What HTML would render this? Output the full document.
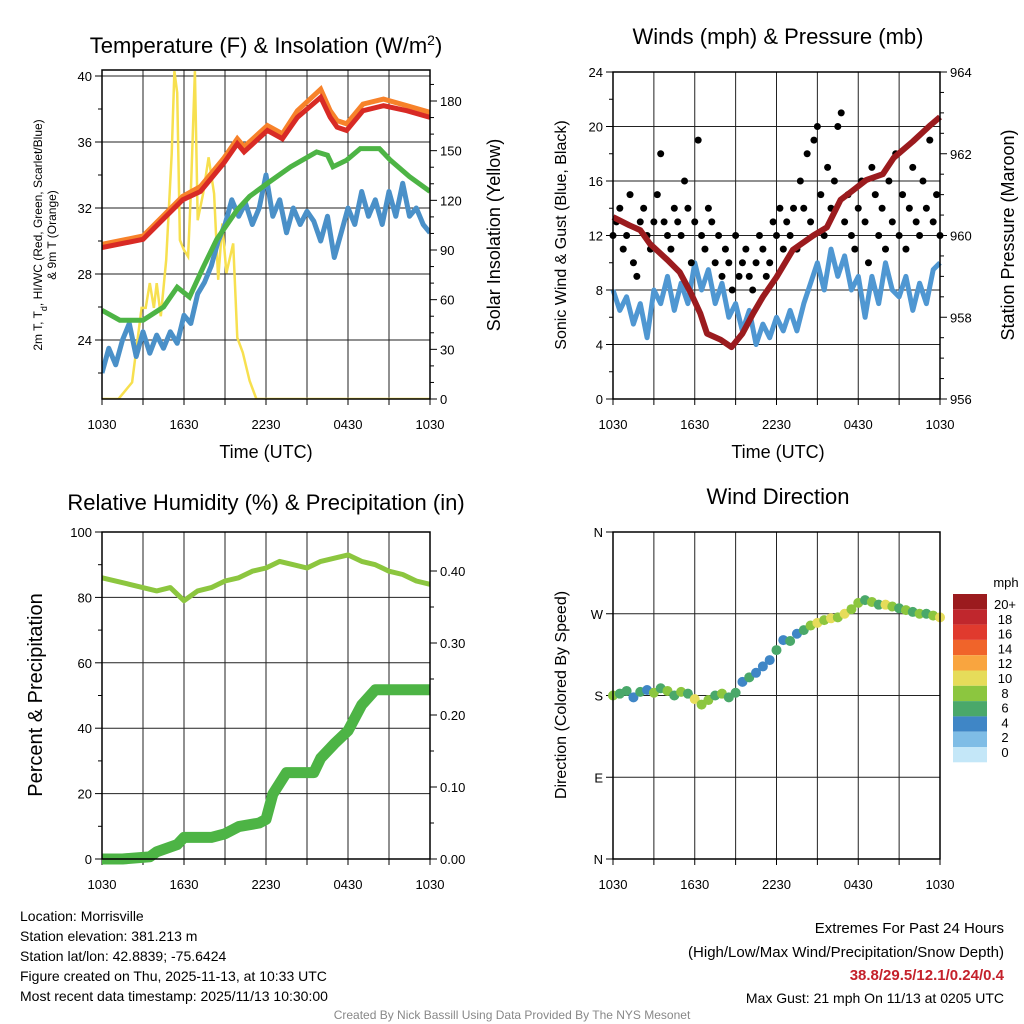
<!DOCTYPE html>
<html><head><meta charset="utf-8"><style>
body{margin:0;background:#fff;}
svg{display:block;font-family:"Liberation Sans",sans-serif;}
</style></head><body>
<svg id="c" width="1024" height="1024" viewBox="0 0 1024 1024"></svg>
<script>
// ---- data (times in hours since 1030 UTC) ----
const xTickLabels=["1030","1630","2230","0430","1030"];
const tempT=[0,3,5.9,7.2,8.9,9.9,10.4,12.1,13.2,14.3,16,16.7,17.2,17.9,19.1,20.6,22.3,24];
const tempV=[29.6,30.1,32.5,33,34.7,35.9,35.4,36.7,36.2,37.5,38.7,37.5,36.9,36.7,37.9,38.2,37.9,37.5];
const orangeV=[29.8,30.3,32.7,33.3,35,36.2,35.7,37,36.5,37.9,39.2,37.9,37.3,37.1,38.3,38.6,38.2,37.8];
const dewpT=[0,1.3,3,4.5,5.5,6.4,7.4,8.4,9.9,10.8,12.1,13.8,15.7,16.5,16.9,17.9,18.9,20.3,21.1,22.5,24];
const dewpV=[25.8,25.2,25.2,26,27.2,26.6,28.4,30.1,31.9,32.7,33.5,34.5,35.4,35.2,34.5,34.9,35.6,35.6,34.9,33.9,33];
const tdV=[22,23.5,22.5,24,25,23,24.5,23.2,24.3,23.5,24.5,23.8,25.5,25,26.8,27.5,28.5,30,31,32.5,31.5,32.3,31,32,34,31.5,32.5,30.5,32,31,31.8,31.2,30,31.5,29,30.5,32,31,33,31.5,32.5,31,33,31.5,33.5,31.5,32,31,30.5];
const solT=[0,1.2,2.2,2.9,3.2,3.5,3.8,4.0,4.3,4.7,5.1,5.3,5.5,5.7,6.0,6.3,6.5,6.8,7.0,7.4,7.8,8.2,8.5,8.8,9.1,9.6,9.9,10.3,10.8,11.3,24];
const solV=[0,0,10,55,55,70,55,70,50,84,148,198,185,96,90,86,124,198,108,124,146,124,72,106,76,94,37,28,11,0,0];
const windV=[8,6.5,7.5,5.5,7,4.5,8,7,9,6.5,8.5,7,10,8,9.5,7,8.5,6,7,5,6.5,4,5.5,4.5,6,5,6.5,5,7,8.5,10,8,11,9,10.5,8,9,6,9,7,10,8,7.5,9,6.5,8.5,7,9.5,10];
const gustV=[12,13,14,11,12,15,10,9,13,14,12,11,13,15,18,13,12,11,14,13,12,16,14,10,13,19,12,11,14,13,10,12,9,11,10,8,12,9,10,11,9,8,10,12,11,9,10,13,12,14,11,13,12,14,11,16,14,18,13,19,20,15,12,17,14,16,20,21,13,15,12,11,14,16,13,10,17,15,12,14,11,16,13,18,12,15,11,14,17,13,12,16,14,19,13,15,12];
const presT=[0,1.2,2,2.7,4,4.9,5.7,6.4,6.9,7.9,8.7,9.5,10.3,11,12,13.2,14.7,15.7,16.7,17.6,18.6,19.8,20.6,22,23.3,24];
const presV=[960.45,960.25,960.13,959.8,959.4,959.1,958.6,958.1,957.6,957.45,957.27,957.6,958.1,958.5,958.98,959.65,960,960.2,960.87,961.1,961.36,961.5,961.9,962.3,962.7,962.9];
const rhT=[0,2,4,5,6,7,8,9,10,11,12,13,14,15,16,17,18,19,20,21,22,23,24];
const rhV=[86,84,82,83,79,82,83,85,86,88,89,91,90,89,91,92,93,91,90,88,87,85,84];
const pcpT=[0,1.5,3.5,4,5.5,6,8,9,10,11.5,12,12.5,13.5,15.5,16,17,18,19,20,24];
const pcpV=[0,0,0.003,0.01,0.02,0.03,0.03,0.035,0.045,0.05,0.055,0.09,0.12,0.12,0.14,0.16,0.178,0.214,0.235,0.235];
const dirV=[180,182,185,178,184,186,183,188,185,180,184,182,176,170,175,180,182,178,183,195,200,205,212,219,230,241,240,248,252,257,260,263,265,266,270,275,282,285,283,280,280,278,276,274,272,270,270,268,266];
const cbLabels=["20+","18","16","14","12","10","8","6","4","2","0"];
const cbColors=["#9b1b1e","#c0272d","#e03a2e","#f0642a","#f9a53f","#e6dc5a","#8cc63f","#4aa86a","#3f86c6","#7fbde6","#c4e7f8"];

const NS="http://www.w3.org/2000/svg";
const svg=document.getElementById('c');
function mk(tag,attrs,parent){const e=document.createElementNS(NS,tag);for(const k in attrs)e.setAttribute(k,attrs[k]);(parent||svg).appendChild(e);return e;}
function txt(x,y,s,size,anchor,parent,extra){const e=mk('text',Object.assign({x:x,y:y,'font-size':size,'text-anchor':anchor||'middle',fill:'#000'},extra||{}),parent);e.textContent=s;return e;}
function lin(fx,fy,vs,ts){return vs.map((v,i)=>(i?'L':'M')+fx(ts[i]).toFixed(1)+','+fy(v).toFixed(1)).join('');}
function stepT(n){const a=[];for(let i=0;i<n;i++)a.push(i*24/(n-1));return a;}

function panel(x0,x1,y0,y1,name){
  const g=mk('g',{});
  
  
  const fx=t=>x0+(x1-x0)*t/24;
  for(let h=0;h<=24;h+=3){const l=mk('line',{x1:fx(h),x2:fx(h),y1:y0,y2:y1,stroke:'#222','stroke-width':1},g);
    
    mk('line',{x1:fx(h),x2:fx(h),y1:y1,y2:y1+6,stroke:'#000'},g);}
  xTickLabels.forEach((s,i)=>{const e=txt(fx(i*6),y1+30,s,13,'middle',g);});
  return {g,fx};
}
function frame(x0,x1,y0,y1,g){const r=mk('rect',{x:x0,y:y0,width:x1-x0,height:y1-y0,fill:'none',stroke:'#000','stroke-width':1.5},g);}
function yAxis(g,x,y0,y1,vals,fy,labels,side,grid,xg0,xg1,minor){
  vals.forEach((v,i)=>{const y=fy(v);
    mk('line',{x1:x,x2:side<0?x-7:x+7,y1:y,y2:y,stroke:'#000'},g);
    if(grid){const l=mk('line',{x1:xg0,x2:xg1,y1:y,y2:y,stroke:'#222'},g);}
    const e=txt(side<0?x-10:x+10,y+5,labels[i],13,side<0?'end':'start',g);});
  (minor||[]).forEach(v=>{const y=fy(v);mk('line',{x1:x,x2:side<0?x-4:x+4,y1:y,y2:y,stroke:'#000'},g);});
}

// ---------- Panel 1 ----------
(function(){
 const x0=102,x1=430,y0=70,y1=399;
 const {g,fx}=panel(x0,x1,y0,y1,'temperature-panel');
 const fy=v=>76+(40-v)*16.5, fr=v=>399-v*298/180;
 yAxis(g,x0,y0,y1,[24,28,32,36,40],fy,["24","28","32","36","40"],-1,true,x0,x1,[22,26,30,34,38]);
 yAxis(g,x1,y0,y1,[0,30,60,90,120,150,180],fr,["0","30","60","90","120","150","180"],1,false,0,0,[10,20,40,50,70,80,100,110,130,140,160,170,190]);
 const cp=mk('clipPath',{id:'cp1'});mk('rect',{x:x0,y:y0,width:x1-x0,height:y1-y0},cp);
 const d=mk('g',{'clip-path':'url(#cp1)'},g);
 const s1=mk('path',{d:lin(fx,fr,solV,solT),fill:'none',stroke:'#f7e04f','stroke-width':2.5},d);
 const s2=mk('path',{d:lin(fx,fy,tdV,stepT(tdV.length)),fill:'none',stroke:'#4a90c8','stroke-width':5,'stroke-linejoin':'round'},d);
 const s3=mk('path',{d:lin(fx,fy,dewpV,dewpT),fill:'none',stroke:'#4db445','stroke-width':5},d);
 const s4=mk('path',{d:lin(fx,fy,orangeV,tempT),fill:'none',stroke:'#f7822a','stroke-width':5},d);
 const s5=mk('path',{d:lin(fx,fy,tempV,tempT),fill:'none',stroke:'#d82a25','stroke-width':5},d);
 frame(x0,x1,y0,y1,g);
 const t=txt(266,53,'Temperature (F) & Insolation (W/m',22,'middle',g);const ts=mk('tspan',{'baseline-shift':'super','font-size':14},t);ts.textContent='2';const t2=mk('tspan',{},t);t2.textContent=')';
 
 let e=txt(266,458,'Time (UTC)',18,'middle',g);
 e=txt(0,0,'Solar Insolation (Yellow)',18,'middle',g,{transform:'translate(500,235) rotate(-90)'});
 e=txt(0,0,'2m T, T',12,'middle',g,{transform:'translate(42,235) rotate(-90)'});const sb=mk('tspan',{'baseline-shift':'sub','font-size':9},e);sb.textContent='d';const r=mk('tspan',{},e);r.textContent=', HI/WC (Red, Green, Scarlet/Blue)';
 
 e=txt(0,0,'& 9m T (Orange)',12,'middle',g,{transform:'translate(56,235) rotate(-90)'});
})();

// ---------- Panel 2 ----------
(function(){
 const x0=613,x1=940,y0=72,y1=399;
 const {g,fx}=panel(x0,x1,y0,y1,'winds-panel');
 const fy=v=>399-v*327/24, fp=p=>399-(p-956)*40.875;
 yAxis(g,x0,y0,y1,[0,4,8,12,16,20,24],fy,["0","4","8","12","16","20","24"],-1,true,x0,x1,[2,6,10,14,18,22]);
 yAxis(g,x1,y0,y1,[956,958,960,962,964],fp,["956","958","960","962","964"],1,false,0,0,[956.5,957,957.5,958.5,959,959.5,960.5,961,961.5,962.5,963,963.5]);
 const s=mk('path',{d:lin(fx,fy,windV,stepT(windV.length)),fill:'none',stroke:'#4f97d2','stroke-width':5,'stroke-linejoin':'round'},g);
 const gt=stepT(gustV.length);
 gustV.forEach((v,i)=>{const c=mk('circle',{cx:fx(gt[i]),cy:fy(v),r:3.5,fill:'#000'},g);});
 const p=mk('path',{d:lin(fx,fp,presV,presT),fill:'none',stroke:'#9b1b1e','stroke-width':6,'stroke-linejoin':'round'},g);
 frame(x0,x1,y0,y1,g);
 let e=txt(778,44,'Winds (mph) & Pressure (mb)',22,'middle',g);
 e=txt(778,458,'Time (UTC)',18,'middle',g);
 e=txt(0,0,'Sonic Wind & Gust (Blue, Black)',16,'middle',g,{transform:'translate(566,235) rotate(-90)'});
 e=txt(0,0,'Station Pressure (Maroon)',18,'middle',g,{transform:'translate(1014,235) rotate(-90)'});
})();

// ---------- Panel 3 ----------
(function(){
 const x0=102,x1=430,y0=532,y1=859;
 const {g,fx}=panel(x0,x1,y0,y1,'humidity-panel');
 const fy=v=>859-v*3.27, fp=v=>859-v*720;
 yAxis(g,x0,y0,y1,[0,20,40,60,80,100],fy,["0","20","40","60","80","100"],-1,true,x0,x1,[10,30,50,70,90]);
 yAxis(g,x1,y0,y1,[0,0.1,0.2,0.3,0.4],fp,["0.00","0.10","0.20","0.30","0.40"],1,false,0,0,[0.05,0.15,0.25,0.35]);
 const a=mk('path',{d:lin(fx,fp,pcpV,pcpT),fill:'none',stroke:'#4db445','stroke-width':11,'stroke-linejoin':'round'},g);
 const b=mk('path',{d:lin(fx,fy,rhV,rhT),fill:'none',stroke:'#8cc63f','stroke-width':5,'stroke-linejoin':'round'},g);
 frame(x0,x1,y0,y1,g);
 let e=txt(266,510,'Relative Humidity (%) & Precipitation (in)',22,'middle',g);
 e=txt(0,0,'Percent & Precipitation',20,'middle',g,{transform:'translate(42,695) rotate(-90)'});
})();

// ---------- Panel 4 ----------
(function(){
 const x0=613,x1=940,y0=532,y1=859;
 const {g,fx}=panel(x0,x1,y0,y1,'wind-direction-panel');
 const fy=d=>859-d*327/360;
 yAxis(g,x0,y0,y1,[0,90,180,270,360],fy,["N","E","S","W","N"],-1,true,x0,x1,[]);
 const dt=stepT(dirV.length);
 dirV.forEach((d,i)=>{const sp=windV[i];let bin=Math.min(10,Math.floor(sp/2));const col=cbColors[10-bin];
   const c=mk('circle',{cx:fx(dt[i]),cy:fy(d),r:5,fill:col},g);});
 frame(x0,x1,y0,y1,g);
 let e=txt(778,504,'Wind Direction',22,'middle',g);
 e=txt(0,0,'Direction (Colored By Speed)',16,'middle',g,{transform:'translate(566,695) rotate(-90)'});
 const cb=mk('g',{});
 cbColors.forEach((c,i)=>{const r=mk('rect',{x:953,y:594+i*15.3,width:34,height:15.3,fill:c},cb);});
 cbLabels.forEach((s,i)=>{const t=txt(1005,609+i*14.8,s,13,'middle',cb);});
 e=txt(1006,587,'mph',13,'middle',cb);
})();

// ---------- footer ----------
const info=["Location: Morrisville","Station elevation: 381.213 m","Station lat/lon: 42.8839; -75.6424","Figure created on Thu, 2025-11-13, at 10:33 UTC","Most recent data timestamp: 2025/11/13 10:30:00"];
info.forEach((s,i)=>{const e=txt(20,921+i*20,s,14,'start');});
let e=txt(1004,933,'Extremes For Past 24 Hours',15,'end');
e=txt(1004,957,'(High/Low/Max Wind/Precipitation/Snow Depth)',15,'end');
e=txt(1004,980,'38.8/29.5/12.1/0.24/0.4',15,'end',null,{fill:'#c4212b','font-weight':'bold'});
e=txt(1004,1003,'Max Gust: 21 mph On 11/13 at 0205 UTC',14,'end');
e=txt(512,1019,'Created By Nick Bassill Using Data Provided By The NYS Mesonet',12,'middle',null,{fill:'#888'});
</script>
</body></html>
